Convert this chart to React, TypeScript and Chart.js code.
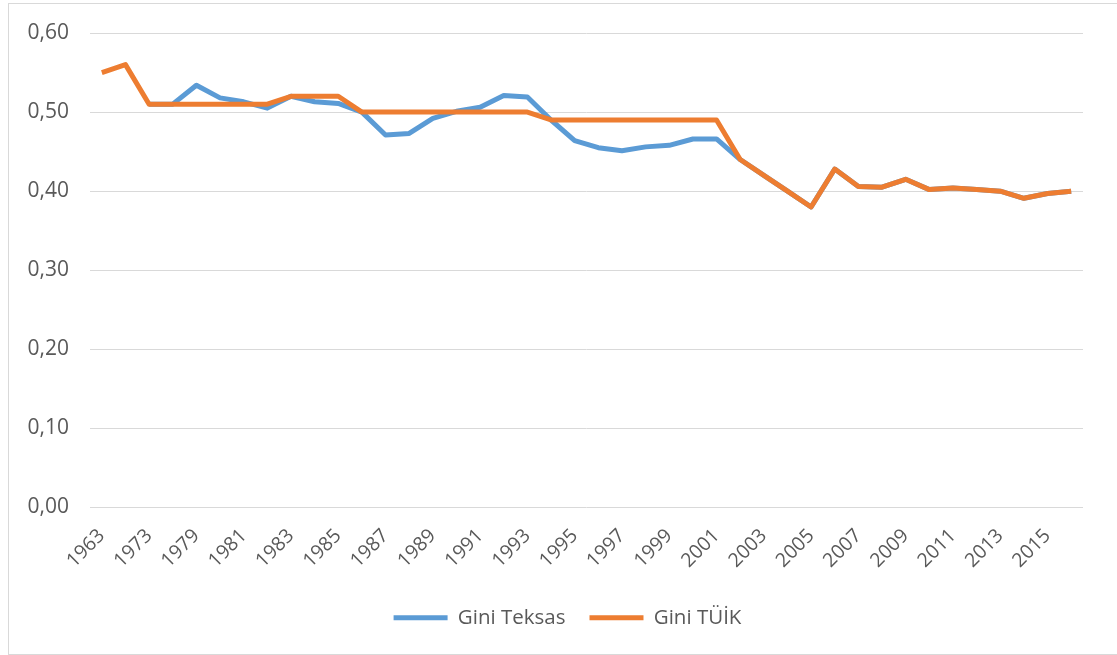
import React, { useEffect, useRef } from "react";
import { Chart, registerables } from "chart.js";

Chart.register(...registerables);

const years: string[] = [
  "1963", "1968", "1973", "1978", "1979", "1980", "1981", "1982", "1983", "1984",
  "1985", "1986", "1987", "1988", "1989", "1990", "1991", "1992", "1993", "1994",
  "1995", "1996", "1997", "1998", "1999", "2000", "2001", "2002", "2003", "2004",
  "2005", "2006", "2007", "2008", "2009", "2010", "2011", "2012", "2013", "2014",
  "2015", "2016",
];

const giniTuik: (number | null)[] = [
  0.55, 0.56, 0.51, 0.51, 0.51, 0.51, 0.51, 0.51, 0.52, 0.52,
  0.52, 0.5, 0.5, 0.5, 0.5, 0.5, 0.5, 0.5, 0.5, 0.49,
  0.49, 0.49, 0.49, 0.49, 0.49, 0.49, 0.49, 0.44, 0.42, 0.4,
  0.38, 0.428, 0.406, 0.405, 0.415, 0.402, 0.404, 0.402, 0.4, 0.391,
  0.397, 0.4,
];

const giniTeksas: (number | null)[] = [
  null, null, 0.51, 0.51, 0.534, 0.518, 0.513, 0.505, 0.52, 0.513,
  0.511, 0.5, 0.471, 0.473, 0.492, 0.501, 0.506, 0.521, 0.519, 0.49,
  0.464, 0.455, 0.451, 0.456, 0.458, 0.466, 0.466, 0.44, 0.42, 0.4,
  0.38, 0.428, 0.406, 0.405, 0.415, 0.402, 0.404, 0.402, 0.4, 0.391,
  0.397, 0.4,
];

const yTicks = { min: 0, max: 0.6, step: 0.1 };

const BLUE = "#5B9BD5";
const ORANGE = "#ED7D31";
const TEXT = "#595959";
const FONT = "'Open Sans', sans-serif";

export default function App() {
  const ref = useRef<HTMLCanvasElement | null>(null);

  useEffect(() => {
    if (!ref.current) return;
    const chart = new Chart(ref.current, {
      type: "line",
      data: {
        labels: years,
        datasets: [
          {
            label: "Gini TÜİK",
            data: giniTuik,
            borderColor: ORANGE,
            backgroundColor: ORANGE,
            borderWidth: 5,
            pointRadius: 0,
            tension: 0,
            borderJoinStyle: "round",
          },
          {
            label: "Gini Teksas",
            data: giniTeksas,
            borderColor: BLUE,
            backgroundColor: BLUE,
            borderWidth: 5,
            pointRadius: 0,
            tension: 0,
            borderJoinStyle: "round",
          },
        ],
      },
      options: {
        animation: false,
        responsive: false,
        maintainAspectRatio: false,
        layout: { padding: { left: 0, right: 0, top: 29, bottom: 16 } },
        plugins: {
          tooltip: { enabled: false },
          legend: {
            position: "bottom",
            reverse: true,
            labels: {
              color: TEXT,
              font: { family: FONT, size: 20.5 },
              boxWidth: 54,
              boxHeight: 5,
              padding: 24,
              generateLabels: (c: any) => {
                const base = Chart.defaults.plugins.legend.labels.generateLabels(c);
                return base.map((l: any) => ({ ...l, lineWidth: 0 }));
              },
            },
          },
        },
        scales: {
          x: {
            offset: true,
            afterFit: (s: any) => {
              s.height = 76;
              s.paddingLeft = 0;
              s.paddingRight = 0;
            },
            grid: { display: false, drawTicks: false },
            border: { display: false },
            ticks: {
              autoSkip: false,
              maxRotation: 45,
              minRotation: 45,
              padding: 17,
              color: TEXT,
              font: { family: FONT, size: 19.5 },
              callback: (_v: any, i: number) => (i % 2 === 0 ? years[i] : ""),
            },
          },
          y: {
            min: yTicks.min,
            max: yTicks.max,
            afterFit: (s: any) => {
              s.width = 81;
              s.paddingTop = 0;
              s.paddingBottom = 0;
            },
            grid: { color: "#d9d9d9", lineWidth: 1, drawTicks: false },
            border: { display: false },
            ticks: {
              stepSize: yTicks.step,
              padding: 21,
              color: TEXT,
              font: { family: FONT, size: 21 },
              callback: (v: any) => Number(v).toFixed(2).replace(".", ","),
            },
          },
          spacer: {
            type: "linear",
            position: "right",
            display: true,
            afterFit: (s: any) => {
              s.width = 43;
              s.paddingTop = 0;
              s.paddingBottom = 0;
            },
            grid: { display: false, drawTicks: false },
            border: { display: false },
            ticks: { display: false },
          },
        },
      },
    });
    return () => chart.destroy();
  }, []);

  return (
    <div style={{ position: "fixed", inset: 0, overflow: "hidden", background: "#fff" }}>
      <div
        style={{
          position: "absolute",
          left: 8,
          top: 3,
          width: 1119,
          height: 652,
          boxSizing: "border-box",
          border: "1px solid #d9d9d9",
        }}
      >
        <canvas ref={ref} width={1117} height={650} style={{ display: "block" }} />
      </div>
    </div>
  );
}
